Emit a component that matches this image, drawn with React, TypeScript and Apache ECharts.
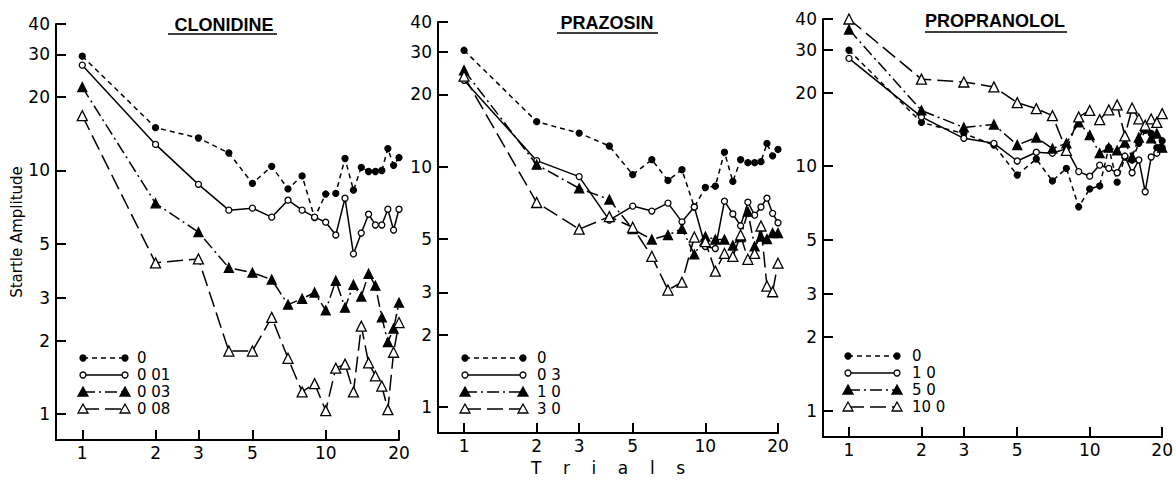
import React, { useEffect, useRef } from "react";
import * as echarts from "echarts";

// ---------- data ----------
const trials = [1, 2, 3, 4, 5, 6, 7, 8, 9, 10, 11, 12, 13, 14, 15, 16, 17, 18, 19, 20];
const xTickValues = [1, 2, 3, 5, 10, 20];
const yTickValues = [1, 2, 3, 5, 10, 20, 30, 40];
const panelTitles = ["CLONIDINE", "PRAZOSIN", "PROPRANOLOL"];

const clonidineLabels = ["0", "0 01", "0 03", "0 08"];
const prazosinLabels = ["0", "0 3", "1 0", "3 0"];
const propranololLabels = ["0", "1 0", "5 0", "10 0"];

const clonidine0 = [29.5, 15, 13.6, 11.8, 8.85, 10.4, 8.4, 9.5, 6.4, 8.0, 8.05, 11.2, 8.3, 10.3, 9.9, 9.9, 10.0, 12.3, 10.5, 11.3];
const clonidine1 = [27.1, 12.8, 8.77, 6.87, 7.0, 6.43, 7.55, 6.87, 6.43, 6.13, 5.43, 7.69, 4.54, 5.53, 6.61, 5.97, 5.97, 6.93, 5.69, 6.93];
const clonidine2 = [22.0, 7.33, 5.58, 3.98, 3.8, 3.56, 2.81, 2.97, 3.15, 2.66, 3.52, 2.73, 3.39, 3.03, 3.76, 3.36, 2.49, 1.97, 2.24, 2.86];
const clonidine3 = [16.8, 4.17, 4.33, 1.81, 1.81, 2.49, 1.69, 1.23, 1.33, 1.03, 1.54, 1.6, 1.23, 2.29, 1.62, 1.43, 1.3, 1.04, 1.79, 2.37];

const prazosin0 = [30.5, 15.4, 13.8, 12.2, 9.27, 10.7, 8.77, 9.72, 6.79, 8.2, 8.3, 11.5, 8.69, 10.7, 10.4, 10.4, 10.5, 12.5, 11.1, 11.8];
const prazosin1 = [22.9, 10.6, 9.1, 6.0, 6.86, 6.54, 7.06, 5.9, 6.8, 4.66, 4.57, 7.19, 6.36, 5.68, 7.12, 6.29, 6.8, 7.4, 6.4, 5.85];
const prazosin2 = [25.2, 10.2, 8.13, 7.3, 5.5, 4.98, 5.2, 5.52, 4.32, 5.12, 4.98, 4.98, 4.7, 5.1, 6.5, 4.66, 5.12, 5.0, 5.3, 5.3];
const prazosin3 = [23.8, 7.1, 5.5, 6.2, 5.6, 4.24, 3.07, 3.31, 5.1, 4.88, 3.68, 4.36, 4.24, 5.2, 4.12, 4.36, 5.67, 3.19, 3.02, 3.97];

const propranolol0 = [29.8, 15.1, 13.6, 12.2, 9.2, 10.7, 8.7, 9.8, 6.82, 8.07, 8.3, 11.9, 8.6, 10.9, 10.6, 12.4, 14.0, 13.6, 11.9, 12.7];
const propranolol1 = [27.6, 15.9, 13.0, 12.4, 10.5, 11.4, 11.3, 11.8, 9.5, 9.1, 10.1, 9.8, 9.4, 11.0, 9.4, 10.6, 7.86, 10.9, 11.3, 11.9];
const propranolol2 = [36.2, 16.9, 14.4, 14.8, 12.2, 13.1, 11.8, 12.4, 15.1, 13.4, 11.3, 11.9, 11.6, 12.5, 10.9, 13.1, 14.4, 13.0, 13.6, 11.9];
const propranolol3 = [40, 22.7, 22.1, 21.1, 18.2, 17.2, 16.1, 11.6, 15.9, 16.9, 15.5, 17.0, 17.8, 13.3, 17.3, 15.6, 14.7, 15.6, 15.1, 16.4];

const panelSeries = [
  [clonidine0, clonidine1, clonidine2, clonidine3],
  [prazosin0, prazosin1, prazosin2, prazosin3],
  [propranolol0, propranolol1, propranolol2, propranolol3],
];
const panelLabels = [clonidineLabels, prazosinLabels, propranololLabels];

// ---------- layout / style ----------
const L = (v: number) => Math.log10(v);
const AXIS_LOW = 0.78;

const layouts = [
  { grid: { left: 56, top: 24, width: 343, height: 416 }, titleX: 224, titleY: 25, ul: [168, 277, 34], leg: { x1: 83, x2: 125, tx: 137, ys: [358, 375, 392, 409] } },
  { grid: { left: 438, top: 22, width: 340, height: 417 }, titleX: 607, titleY: 23, ul: [557, 658, 33], leg: { x1: 465, x2: 523, tx: 537, ys: [358, 375, 392, 409] } },
  { grid: { left: 823, top: 19, width: 344, height: 418 }, titleX: 995, titleY: 21, ul: [925, 1067, 32], leg: { x1: 848, x2: 897, tx: 912, ys: [356, 373, 390, 407] } },
];

const styles = [
  { symbol: "circle", size: 6, fill: "#000", dash: [5, 4] as any },
  { symbol: "circle", size: 6, fill: "#fff", dash: "solid" as any },
  { symbol: "triangle", size: 9, fill: "#000", dash: [12, 4, 2, 4] as any },
  { symbol: "triangle", size: 10, fill: "#fff", dash: [16, 6] as any },
];

const FONT = "DejaVu Sans";
const fmt = (v: number) => String(Math.round(Math.pow(10, v)));
const NB = "\u00a0";
const trialsName = ["T", "r", "i", "a", "l", "s"].join(NB.repeat(4));

function marker(kind: number, x: number, y: number) {
  const st = styles[kind];
  const style = { fill: st.fill, stroke: "#000", lineWidth: 1.3 };
  if (st.symbol === "circle") {
    return { type: "circle", shape: { cx: x, cy: y, r: 3 }, style, z: 10 };
  }
  return { type: "polygon", shape: { points: [[x, y - 5], [x - 5, y + 4], [x + 5, y + 4]] }, style, z: 10 };
}

export default function App() {
  const ref = useRef<HTMLDivElement>(null);
  useEffect(() => {
    if (!ref.current) return;
    const chart = echarts.init(ref.current, undefined, { renderer: "svg" });

    const grids: any[] = [];
    const xAxes: any[] = [];
    const yAxes: any[] = [];
    const series: any[] = [];
    const graphics: any[] = [];

    layouts.forEach((lay, i) => {
      grids.push({ ...lay.grid, containLabel: false });
      xAxes.push({
        type: "value",
        gridIndex: i,
        min: L(AXIS_LOW),
        max: L(20),
        axisLine: { show: true, onZero: false, lineStyle: { color: "#000", width: 2 } },
        axisTick: { show: true, inside: true, length: 10, customValues: xTickValues.map(L), lineStyle: { color: "#000", width: 2 } },
        axisLabel: { customValues: xTickValues.map(L), formatter: fmt, margin: 4, color: "#000", fontSize: 17, fontFamily: FONT },
        splitLine: { show: false },
        name: i === 1 ? trialsName : "",
        nameLocation: "middle",
        nameGap: 19,
        nameTextStyle: { color: "#000", fontSize: 17, fontFamily: FONT },
      });
      yAxes.push({
        type: "value",
        gridIndex: i,
        min: L(AXIS_LOW),
        max: L(40),
        axisLine: { show: true, onZero: false, lineStyle: { color: "#000", width: 2 } },
        axisTick: { show: true, inside: true, length: 10, customValues: yTickValues.map(L), lineStyle: { color: "#000", width: 2 } },
        axisLabel: { customValues: yTickValues.map(L), formatter: fmt, margin: 6, color: "#000", fontSize: 17, fontFamily: FONT },
        splitLine: { show: false },
        name: i === 0 ? "Startle Amplitude" : "",
        nameLocation: "middle",
        nameRotate: 90,
        nameGap: 31,
        nameTextStyle: { color: "#000", fontSize: 15, fontFamily: FONT },
      });

      panelSeries[i].forEach((vals, k) => {
        const st = styles[k];
        series.push({
          type: "line",
          name: panelTitles[i] + " " + panelLabels[i][k],
          xAxisIndex: i,
          yAxisIndex: i,
          data: trials.map((t, j) => [L(t), L(vals[j])]),
          symbol: st.symbol,
          symbolSize: st.size,
          showSymbol: true,
          clip: false,
          silent: true,
          lineStyle: { color: "#000", width: 1.5, type: st.dash },
          itemStyle: { color: st.fill, borderColor: "#000", borderWidth: 1.3 },
          z: 3 + k,
        });
      });

      // title + underline
      graphics.push({
        type: "text",
        x: lay.titleX,
        y: lay.titleY,
        style: { text: panelTitles[i], fontSize: 18, fontWeight: "bold", fontFamily: "Liberation Sans", fill: "#000", align: "center", verticalAlign: "middle" },
      });
      graphics.push({
        type: "line",
        shape: { x1: lay.ul[0], y1: lay.ul[2], x2: lay.ul[1], y2: lay.ul[2] },
        style: { stroke: "#000", lineWidth: 1.5 },
      });

      // legend
      lay.leg.ys.forEach((y, k) => {
        const st = styles[k];
        graphics.push({
          type: "line",
          shape: { x1: lay.leg.x1, y1: y, x2: lay.leg.x2, y2: y },
          style: { stroke: "#000", lineWidth: 1.5, lineDash: st.dash === "solid" ? null : st.dash },
        });
        graphics.push(marker(k, lay.leg.x1, y));
        graphics.push(marker(k, lay.leg.x2, y));
        graphics.push({
          type: "text",
          x: lay.leg.tx,
          y: y,
          style: { text: panelLabels[i][k], fontSize: 15, lineHeight: 14, fontFamily: FONT, fill: "#000", align: "left", verticalAlign: "middle" },
        });
      });
    });

    chart.setOption({
      animation: false,
      backgroundColor: "#fff",
      grid: grids,
      xAxis: xAxes,
      yAxis: yAxes,
      series,
      graphic: graphics,
    });
    return () => chart.dispose();
  }, []);

  return (
    <div
      ref={ref}
      style={{ position: "fixed", left: 0, top: 0, width: 1176, height: 481, background: "#fff" }}
    />
  );
}
